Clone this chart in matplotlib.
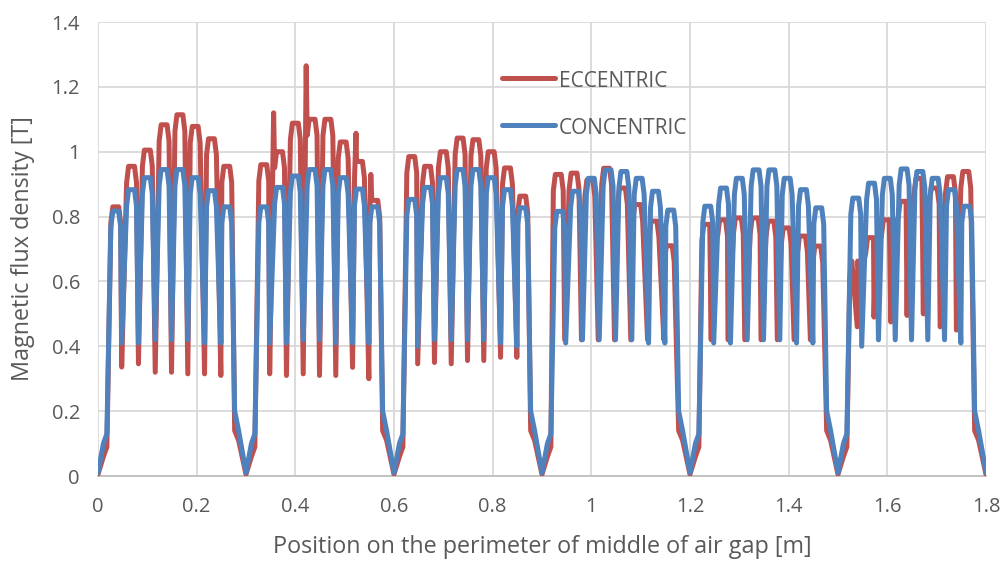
import numpy as np
import matplotlib
matplotlib.use("Agg")
import matplotlib.pyplot as plt
from matplotlib.lines import Line2D

# ---------------- data ----------------
pole_edges = [0.0, 0.3, 0.6, 0.9, 1.2, 1.5, 1.8]
# tooth (peak) and slot (trough) centres, relative to the pole start [m]
tooth_x = [0.036, 0.068, 0.100, 0.134, 0.166, 0.197, 0.230, 0.261]
slot_x = [0.048, 0.082, 0.116, 0.149, 0.182, 0.216, 0.249]
# inter-pole gap points, relative to each pole edge [m]
gap_dx = [-0.023, -0.015, 0.0, 0.011, 0.018]

conc_gap_y = [0.20, 0.14, 0.01, 0.10, 0.13]
ecc_gap_y = [0.14, 0.11, 0.005, 0.06, 0.09]

conc_peaks = [
    [0.817, 0.883, 0.920, 0.945, 0.945, 0.920, 0.880, 0.830],
    [0.830, 0.890, 0.925, 0.945, 0.945, 0.920, 0.885, 0.830],
    [0.853, 0.890, 0.920, 0.945, 0.945, 0.920, 0.883, 0.827],
    [0.816, 0.878, 0.918, 0.944, 0.939, 0.918, 0.878, 0.820],
    [0.832, 0.888, 0.918, 0.944, 0.944, 0.918, 0.883, 0.827],
    [0.857, 0.903, 0.918, 0.947, 0.939, 0.918, 0.883, 0.832],
]
conc_slots = [
    [0.41, 0.41, 0.42, 0.42, 0.42, 0.41, 0.41],
    [0.41, 0.41, 0.42, 0.42, 0.41, 0.41, 0.41],
    [0.40, 0.42, 0.42, 0.42, 0.42, 0.41, 0.40],
    [0.41, 0.42, 0.42, 0.42, 0.42, 0.41, 0.41],
    [0.41, 0.41, 0.42, 0.42, 0.42, 0.41, 0.41],
    [0.40, 0.42, 0.42, 0.42, 0.42, 0.42, 0.41],
]

ecc_peaks = [
    [0.830, 0.955, 1.005, 1.083, 1.114, 1.078, 1.040, 0.955],
    [0.960, 1.000, 1.088, 1.100, 1.100, 1.030, 0.970, 0.850],
    [0.985, 0.955, 1.000, 1.042, 1.037, 1.000, 0.950, 0.863],
    [0.930, 0.934, 0.913, 0.949, 0.888, 0.837, 0.786, 0.710],
    [0.776, 0.790, 0.796, 0.796, 0.786, 0.765, 0.740, 0.709],
    [0.663, 0.735, 0.790, 0.847, 0.918, 0.888, 0.923, 0.939],
]
ecc_slots = [
    [0.336, 0.346, 0.320, 0.320, 0.315, 0.315, 0.310],
    [0.315, 0.310, 0.315, 0.310, 0.310, 0.335, 0.300],
    [0.346, 0.350, 0.346, 0.356, 0.356, 0.366, 0.366],
    [0.420, 0.420, 0.420, 0.420, 0.420, 0.420, 0.420],
    [0.420, 0.420, 0.420, 0.420, 0.420, 0.420, 0.420],
    [0.460, 0.490, 0.475, 0.495, 0.500, 0.460, 0.450],
]
ecc_tooth_shift = [0.0, 0.0, 0.0, -0.003, -0.002, -0.002]
ecc_slot_shift = [0.0, 0.0, 0.0, -0.002, -0.005, -0.009]
# narrow spikes on the eccentric curve
ecc_spike_x = [0.356, 0.422, 0.523, 0.553]
ecc_spike_y = [1.120, 1.265, 1.057, 0.930]

series_names = ["ECCENTRIC", "CONCENTRIC"]
x_ticks = [0, 0.2, 0.4, 0.6, 0.8, 1.0, 1.2, 1.4, 1.6, 1.8]
y_ticks = [0, 0.2, 0.4, 0.6, 0.8, 1.0, 1.2, 1.4]

# ---------------- build traces ----------------
# tooth glyph (drawing style): flat top of half width TOP, shoulders at SH
TOP, SH, DROP = 0.006, 0.010, 0.05


def build(peaks, slots, gap_y, tshift=None, sshift=None, sx=(), sy=()):
    pts = []
    for e in pole_edges:
        for dx, gy in zip(gap_dx, gap_y):
            x = e + dx
            if 0.0 <= x <= 1.8:
                pts.append((x, gy))
    for k, ps in enumerate(pole_edges[:-1]):
        ts = tshift[k] if tshift else 0.0
        ss = sshift[k] if sshift else 0.0
        for tx, p in zip(tooth_x, peaks[k]):
            c = ps + tx + ts
            pts += [(c - SH, p - DROP), (c - TOP, p), (c + TOP, p), (c + SH, p - DROP)]
        for s_x, s in zip(slot_x, slots[k]):
            pts.append((ps + s_x + ss, s))
    for a, b in zip(sx, sy):
        pts.append((a, b))
    pts.sort(key=lambda t: t[0])
    return [p[0] for p in pts], [p[1] for p in pts]


ex, ey = build(ecc_peaks, ecc_slots, ecc_gap_y, ecc_tooth_shift, ecc_slot_shift,
               ecc_spike_x, ecc_spike_y)
cx, cy = build(conc_peaks, conc_slots, conc_gap_y)

# ---------------- plot ----------------
plt.rcParams['font.family'] = ['Open Sans', 'DejaVu Sans']
RED = "#C0504D"
BLUE = "#4F81BD"
TXT = "#595959"
W, H = 1006, 561

fig = plt.figure(figsize=(W / 100, H / 100), dpi=100)
ax = fig.add_axes([98 / W, 1 - 476 / H, (986 - 98) / W, (476 - 22) / H])

ax.plot(ex, ey, color=RED, lw=3.6, solid_joinstyle='round', solid_capstyle='round', zorder=3)
ax.plot(cx, cy, color=BLUE, lw=3.6, solid_joinstyle='round', solid_capstyle='round', zorder=4)

ax.set_xlim(0, 1.8)
ax.set_ylim(0, 1.4)
ax.set_xticks(x_ticks)
ax.set_yticks(y_ticks)
ax.set_xticklabels([f"{v:g}" for v in x_ticks])
ax.set_yticklabels([f"{v:g}" for v in y_ticks])
ax.tick_params(length=0, labelsize=14.5, colors=TXT)
ax.tick_params(axis='x', pad=15)
ax.tick_params(axis='y', pad=13)
ax.grid(True, color="#d9d9d9", lw=1.3)
ax.set_axisbelow(True)
for s in ["top", "right", "left"]:
    ax.spines[s].set_visible(False)
ax.spines["bottom"].set_color("#bfbfbf")
ax.spines["bottom"].set_linewidth(1.3)

ax.set_xlabel("Position on the perimeter of middle of air gap [m]", fontsize=16.8, color=TXT)
ax.set_ylabel("Magnetic flux density [T]", fontsize=16.8, color=TXT)
ax.xaxis.set_label_coords(0.5, (476 - 535) / 454)
ax.yaxis.set_label_coords((35 - 98) / 888, 0.5)

# legend (no frame), drawn in figure pixels
for name, col, yy in [(series_names[0], RED, 78), (series_names[1], BLUE, 125)]:
    fig.add_artist(Line2D([502 / W, 555 / W], [1 - yy / H, 1 - yy / H], color=col,
                          lw=3.6, solid_capstyle='round', transform=fig.transFigure))
    fig.text(559 / W, 1 - (yy + 1) / H, name, fontsize=15, color=TXT,
             va='center_baseline', ha='left')

fig.savefig("out.png", dpi=100)
